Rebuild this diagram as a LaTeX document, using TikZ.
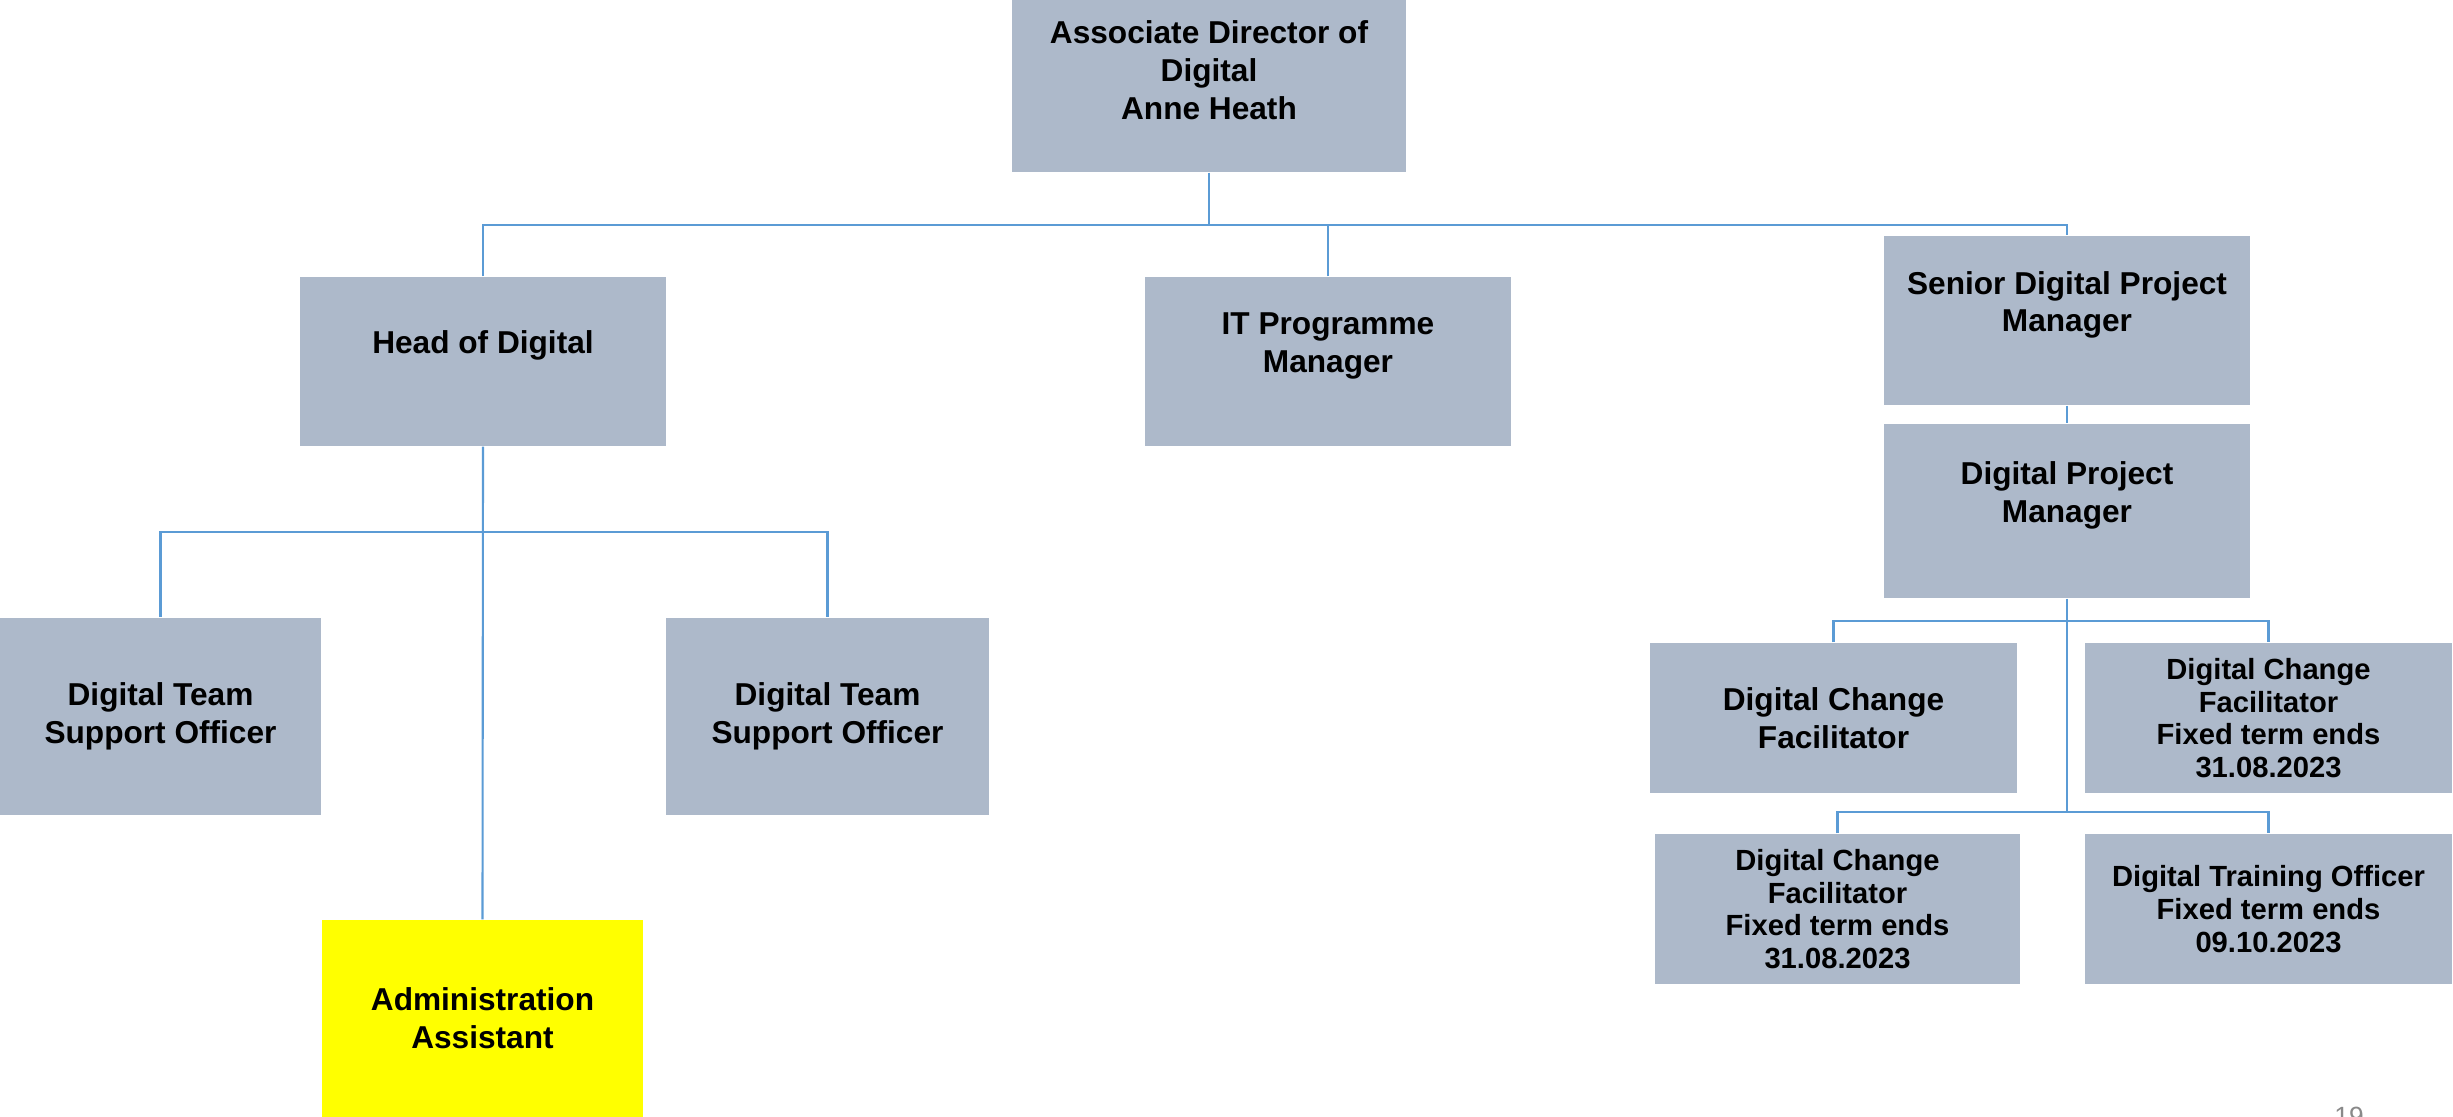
\documentclass[tikz,border=0pt]{standalone}
\usepackage{fontspec}
\setmainfont{Liberation Sans}
\definecolor{postfill}{HTML}{ADB9CA}
\definecolor{adminfill}{HTML}{FFFF00}
\definecolor{linkblue}{HTML}{5B9BD5}
\definecolor{pagegrey}{HTML}{898989}

\begin{document}
\begin{tikzpicture}[
        post/.style={fill=postfill, inner sep=0pt, align=center,
            minimum width=3.66cm, minimum height=1.69cm,
            font=\fontsize{9}{10.8}\selectfont\bfseries},
        term/.style={post, minimum width=3.67cm, minimum height=1.5cm,
            font=\fontsize{8.3}{9.3}\selectfont\bfseries},
        conn/.style={draw=linkblue, line width=0.6pt}
    ]
        \useasboundingbox (0,0) rectangle (24.53,-11.16);
        % director and the three posts below
        \node[post, minimum width=3.94cm, minimum height=2.03cm] (adod) at (12.09,-0.705) {Associate Director of\\Digital\\Anne Heath};
        \node[post] (hod)  at (4.83,-3.615)  {Head of Digital\\\mbox{}};
        \node[post] (itpm) at (13.28,-3.615) {IT Programme\\Manager\\\mbox{}};
        \node[post] (sdpm) at (20.67,-3.205) {Senior Digital Project\\Manager\\\mbox{}};
        \node[post, minimum height=1.74cm] (dpm) at (20.67,-5.11) {Digital Project\\Manager\\\mbox{}};
        % head of digital team
        \node[post, minimum width=3.21cm, minimum height=1.97cm] (dtsoA) at (1.605,-7.165) {Digital Team\\Support Officer};
        \node[post, minimum width=3.23cm, minimum height=1.97cm] (dtsoB) at (8.275,-7.165) {Digital Team\\Support Officer};
        \node[post, fill=adminfill, minimum width=3.21cm, minimum height=1.97cm] (admin) at (4.825,-10.185) {Administration\\Assistant};
        % project team
        \node[post, minimum width=3.67cm, minimum height=1.5cm] (dcfA) at (18.335,-7.18) {Digital Change\\Facilitator};
        \node[term] (dcfB) at (22.685,-7.18) {Digital Change\\Facilitator\\Fixed term ends\\31.08.2023};
        \node[term, minimum width=3.65cm] (dcfC) at (18.375,-9.09) {Digital Change\\Facilitator\\Fixed term ends\\31.08.2023};
        \node[term] (dto) at (22.685,-9.09) {Digital Training Officer\\Fixed term ends\\09.10.2023};

        \coordinate (topbus) at (12.09,-2.25);
        \draw[conn] (adod.south) -- (topbus);
        \draw[conn] (hod.north) |- (topbus) -| (sdpm.north);
        \draw[conn] (itpm.north) -- (itpm.north |- topbus);
        \draw[conn] (sdpm.south) -- (dpm.north);

        \coordinate (hodbus) at (4.83,-5.32);
        \draw[conn] (hod.south) -- (admin.north);
        \draw[conn] (dtsoA.north) |- (hodbus) -| (dtsoB.north);

        \coordinate (dpmbus) at (20.67,-6.21);
        \coordinate (dpmend) at (20.67,-8.12);
        \draw[conn] (dpm.south) -- (dpmend);
        \draw[conn] (dcfA.north) |- (dpmbus) -| (dcfB.north);
        \draw[conn] (dcfC.north) |- (dpmend) -| (dto.north);

        \node[anchor=base west, text=pagegrey, font=\fontsize{7.5}{9}\selectfont] (pagenum) at (23.22,-11.25) {19};
\end{tikzpicture}
\end{document}
